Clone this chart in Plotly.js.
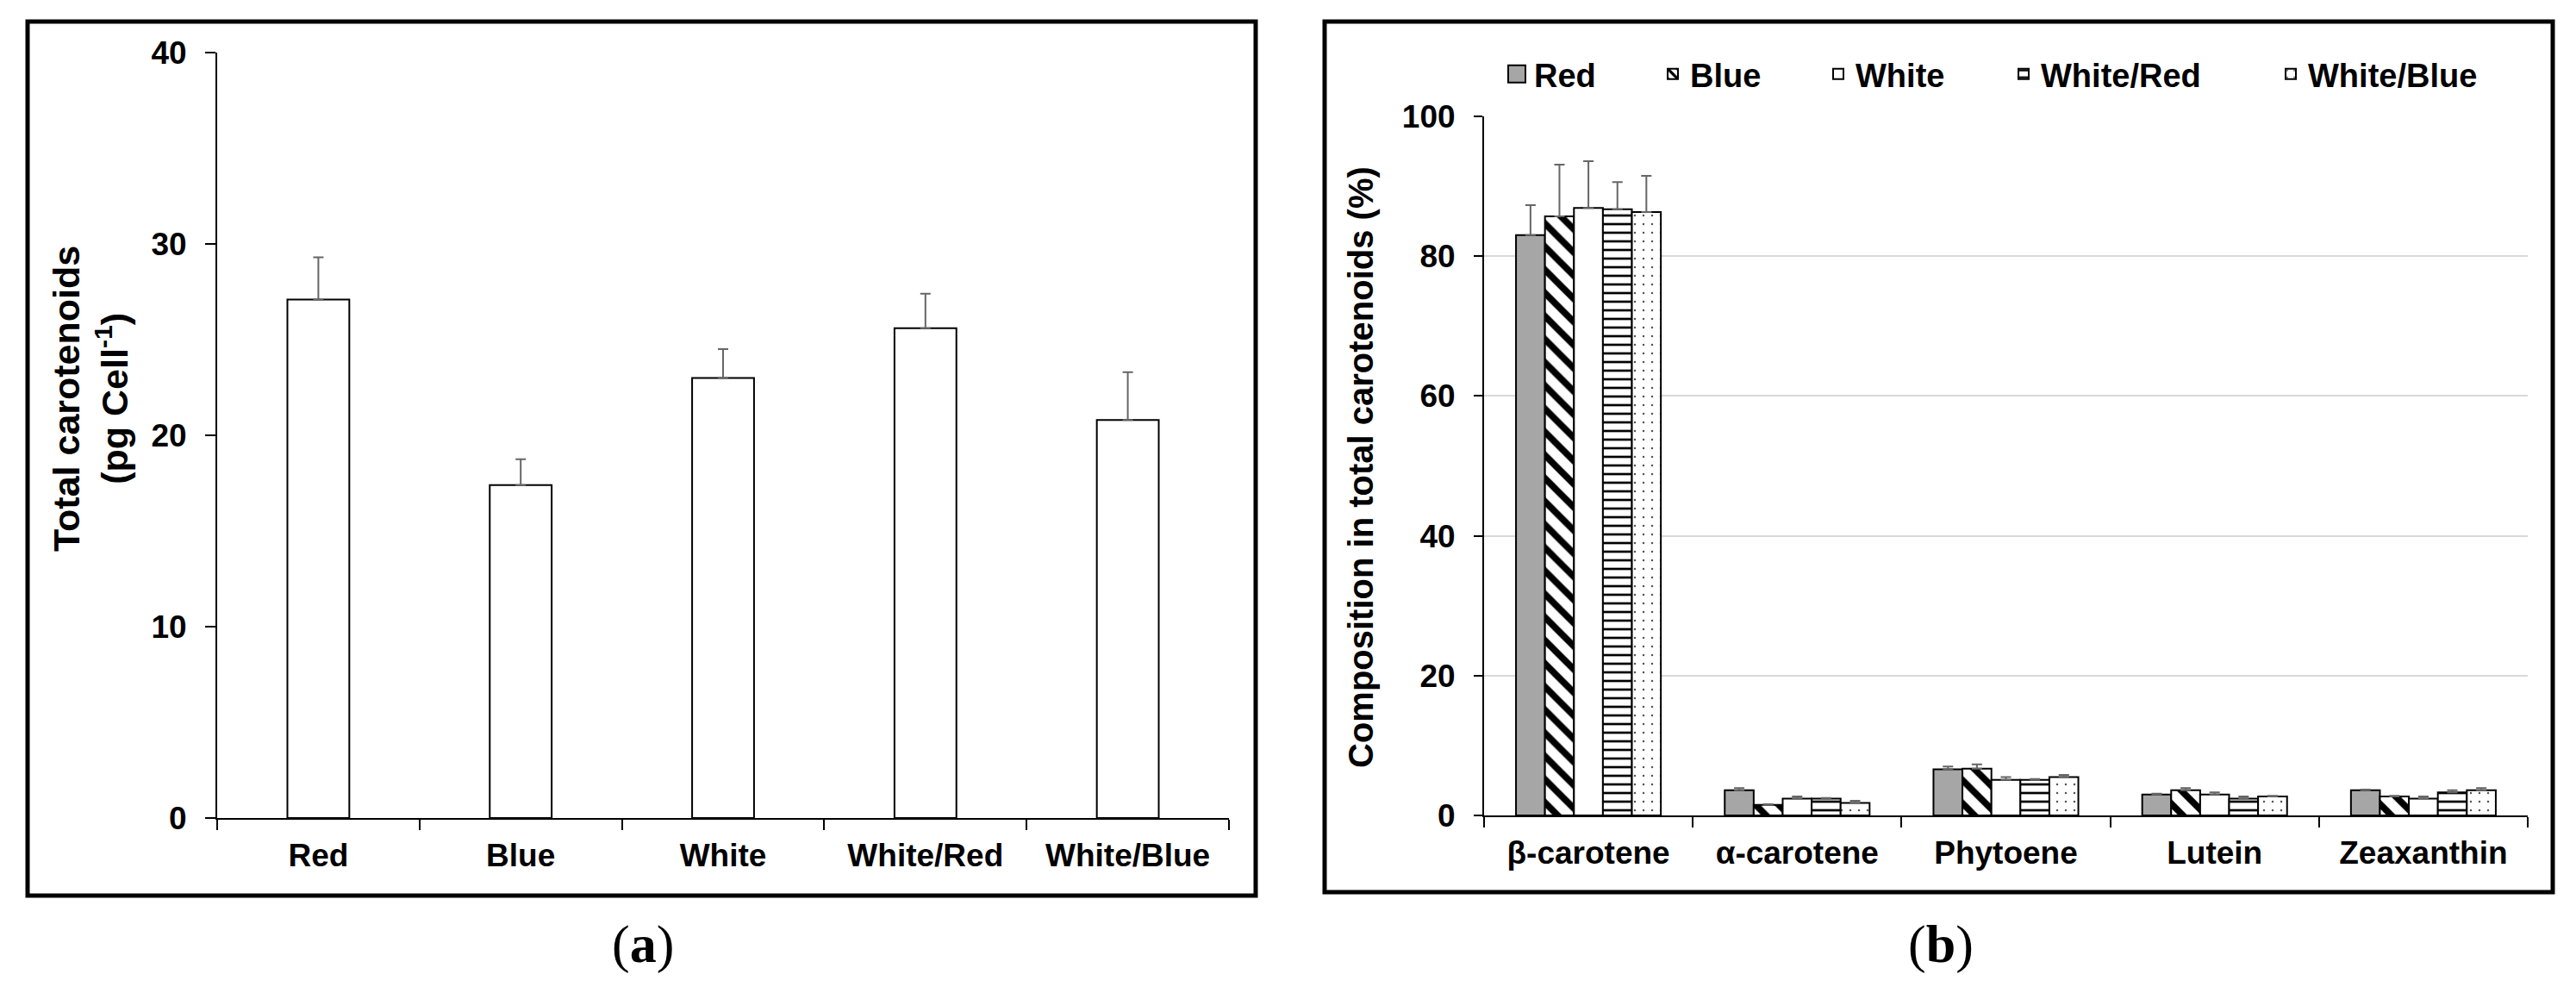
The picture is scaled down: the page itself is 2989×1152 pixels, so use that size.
<!DOCTYPE html>
<html><head><meta charset="utf-8">
<script src="https://cdn.plot.ly/plotly-3.0.1.min.js"></script>
<style>html,body{margin:0;padding:0;background:#fff}</style>
</head><body><div id="chart" style="width:2989px;height:1152px"></div>
<script>
// ---- Panel (a) data ----
const treatments = ['Red', 'Blue', 'White', 'White/Red', 'White/Blue'];
const totalCarot = [27.1, 17.4, 23.0, 25.6, 20.8];
const totalCarotErr = [2.2, 1.35, 1.5, 1.8, 2.5];

// ---- Panel (b) data ----
const pigments = ['β-carotene', 'α-carotene', 'Phytoene', 'Lutein', 'Zeaxanthin'];
const compRed = [83.0, 3.6, 6.6, 3.0, 3.6];
const compRedErr = [4.3, 0.3, 0.4, 0.1, 0.1];
const compBlue = [85.7, 1.5, 6.7, 3.6, 2.7];
const compBlueErr = [7.4, 0.1, 0.6, 0.3, 0.1];
const compWhite = [86.9, 2.4, 5.1, 3.0, 2.4];
const compWhiteErr = [6.7, 0.3, 0.4, 0.3, 0.3];
const compWR = [86.7, 2.4, 5.1, 2.4, 3.3];
const compWRErr = [3.9, 0.1, 0.1, 0.3, 0.3];
const compWB = [86.3, 1.8, 5.5, 2.7, 3.6];
const compWBErr = [5.2, 0.3, 0.3, 0.1, 0.3];

const seriesNames = ['Red', 'Blue', 'White', 'White/Red', 'White/Blue'];
const seriesVals = [compRed, compBlue, compWhite, compWR, compWB];
const seriesErrs = [compRedErr, compBlueErr, compWhiteErr, compWRErr, compWBErr];

// ---- styling ----
const W = 2989, H = 1152;
const px = x => x / W;
const py = y => 1 - y / H;
const FONT = 'Liberation Sans, Arial, Helvetica, sans-serif';
const SERIF = 'Palatino Linotype, Book Antiqua, Palatino, Liberation Serif, serif';
const tickFont = {family: FONT, size: 37, color: '#000', weight: 'bold'};

const seriesMarkers = [
  {color: '#a6a6a6'},
  {color: '#ffffff', pattern: {shape: '\\', fgcolor: '#000', bgcolor: '#fff', size: 19, solidity: 0.4}},
  {color: '#ffffff'},
  {color: '#ffffff', pattern: {shape: '-', fgcolor: '#000', bgcolor: '#fff', size: 10, solidity: 0.27}},
  {color: '#ffffff', pattern: {shape: '.', fgcolor: '#555', bgcolor: '#fff', size: 10, solidity: 0.05}}
];
const legendCenters = [1760, 1941, 2133, 2348, 2658];
const legendKeys = ['legend', 'legend2', 'legend3', 'legend4', 'legend5'];

const errStyle = {color: '#666666', thickness: 2, width: 6};

const traces = [];
traces.push({
  type: 'bar', x: treatments, y: totalCarot, xaxis: 'x', yaxis: 'y',
  width: 0.306, showlegend: false,
  marker: {color: '#ffffff', line: {color: '#000', width: 2}},
  error_y: Object.assign({type: 'data', symmetric: false, array: totalCarotErr,
    arrayminus: totalCarotErr.map(() => 0)}, errStyle),
  hoverinfo: 'skip'
});
seriesNames.forEach((nm, i) => {
  traces.push({
    type: 'bar', name: nm, x: pigments, y: seriesVals[i], xaxis: 'x2', yaxis: 'y2',
    legend: legendKeys[i],
    marker: Object.assign({line: {color: '#000', width: 2}}, seriesMarkers[i]),
    error_y: Object.assign({type: 'data', symmetric: false, array: seriesErrs[i],
      arrayminus: seriesErrs[i].map(() => 0)}, errStyle),
    hoverinfo: 'skip'
  });
});

const xCommon = {
  type: 'category', showline: true, linecolor: '#000', linewidth: 2,
  ticks: 'outside', tickson: 'boundaries', ticklen: 12, tickwidth: 2, tickcolor: '#000',
  tickfont: tickFont, tickangle: 0, ticklabelstandoff: 10,
  showgrid: false, zeroline: false, fixedrange: true
};
const yCommon = {
  showline: true, linecolor: '#000', linewidth: 2,
  ticks: 'outside', ticklen: 12, tickwidth: 2, tickcolor: '#000',
  tickfont: tickFont, ticklabelstandoff: 14, zeroline: false, fixedrange: true
};

const layout = {
  width: W, height: H,
  margin: {l: 0, r: 0, t: 0, b: 0},
  paper_bgcolor: '#fff', plot_bgcolor: 'rgba(0,0,0,0)',
  barmode: 'group', bargap: 0.306, bargroupgap: 0,
  font: {family: FONT, color: '#000'},
  xaxis: Object.assign({domain: [px(252), px(1426)], anchor: 'y'}, xCommon),
  yaxis: Object.assign({domain: [py(949), py(61)], anchor: 'x', range: [0, 40], dtick: 10,
    showgrid: false}, yCommon),
  xaxis2: Object.assign({domain: [px(1722), px(2933)], anchor: 'y2'}, xCommon),
  yaxis2: Object.assign({domain: [py(946), py(135)], anchor: 'x2', range: [0, 100], dtick: 20,
    showgrid: true, gridcolor: '#d9d9d9', gridwidth: 2}, yCommon, {ticklen: 10}),
  shapes: [
    {type: 'rect', xref: 'paper', yref: 'paper', x0: px(32), x1: px(1457), y0: py(1039), y1: py(25),
     line: {color: '#000', width: 5}},
    {type: 'rect', xref: 'paper', yref: 'paper', x0: px(1537), x1: px(2962), y0: py(1035), y1: py(25),
     line: {color: '#000', width: 5}}
  ],
  annotations: [
    {xref: 'paper', yref: 'paper', x: px(105), y: py(462), textangle: -90, showarrow: false,
     xanchor: 'center', yanchor: 'middle',
     text: 'Total carotenoids<br>(pg Cell<sup>-1</sup>)',
     font: {family: FONT, size: 43, color: '#000', weight: 'bold'}},
    {xref: 'paper', yref: 'paper', x: px(1579), y: py(542), textangle: -90, showarrow: false,
     xanchor: 'center', yanchor: 'middle',
     text: 'Composition in total carotenoids (%)',
     font: {family: FONT, size: 40, color: '#000', weight: 'bold'}},
    {xref: 'paper', yref: 'paper', x: px(746), y: py(1095), showarrow: false,
     xanchor: 'center', yanchor: 'middle', text: '(<b>a</b>)',
     font: {family: SERIF, size: 62, color: '#000'}},
    {xref: 'paper', yref: 'paper', x: px(2252), y: py(1095), showarrow: false,
     xanchor: 'center', yanchor: 'middle', text: '(<b>b</b>)',
     font: {family: SERIF, size: 62, color: '#000'}}
  ]
};
legendKeys.forEach((k, i) => {
  layout[k] = {
    x: px(legendCenters[i] - 20), y: py(86), xanchor: 'left', yanchor: 'middle',
    orientation: 'h', bgcolor: 'rgba(0,0,0,0)', borderwidth: 0,
    font: {family: FONT, size: 38, color: '#000', weight: 'bold'},
    itemwidth: 30
  };
});

Plotly.newPlot('chart', traces, layout, {staticPlot: true, displayModeBar: false}).then(() => {
  document.querySelectorAll('.legend .legendpoints path').forEach(p => {
    p.setAttribute('d', 'M10,10H-10V-10H10Z');
  });
});
</script>
</body></html>
